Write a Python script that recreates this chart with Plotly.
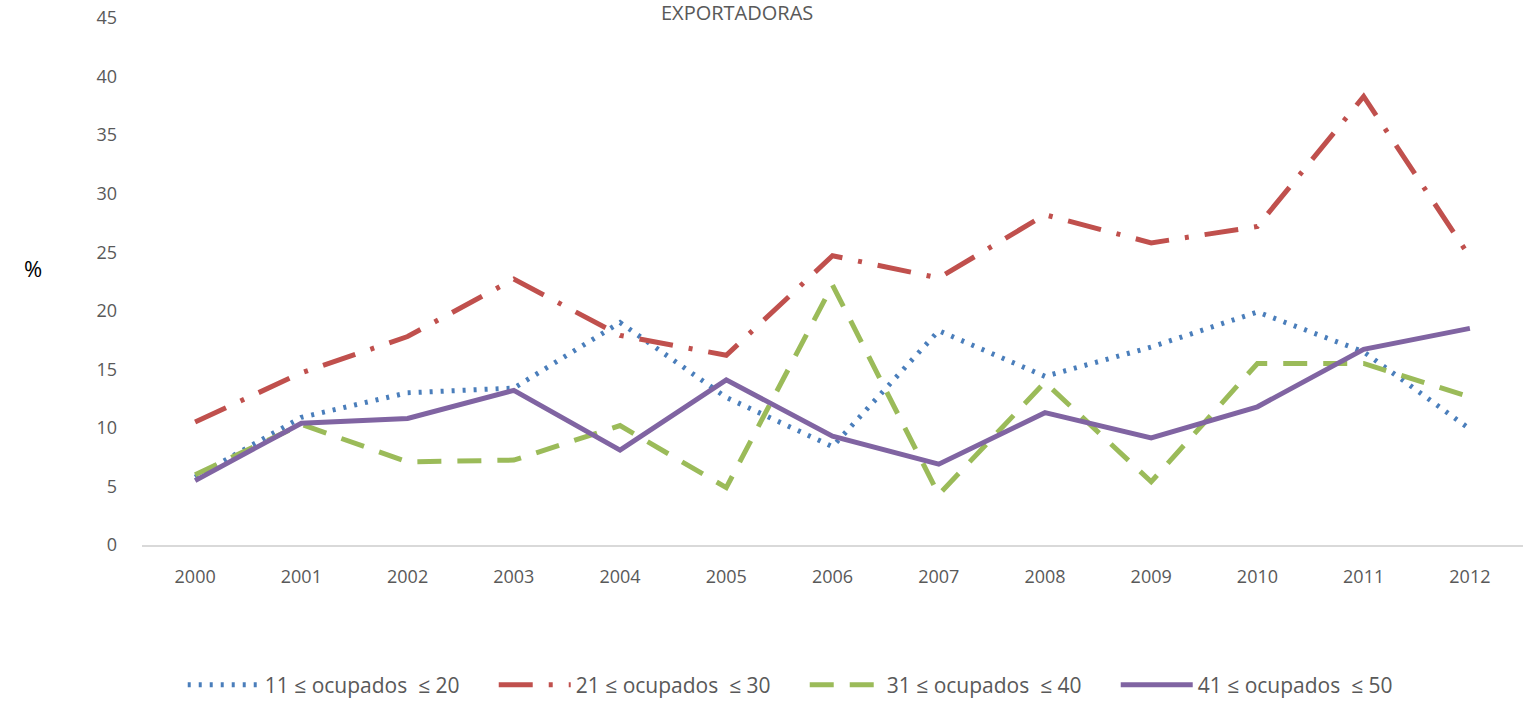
import plotly.graph_objects as go

years = ["2000", "2001", "2002", "2003", "2004", "2005", "2006",
         "2007", "2008", "2009", "2010", "2011", "2012"]
s11_20 = [5.8, 10.9, 13.0, 13.4, 19.0, 12.6, 8.4, 18.3, 14.4, 16.9, 19.9, 16.5, 9.9]
s21_30 = [10.5, 14.7, 17.8, 22.7, 17.9, 16.2, 24.7, 22.8, 28.2, 25.8, 27.2, 38.3, 24.6]
s31_40 = [6.0, 10.3, 7.1, 7.25, 10.2, 4.9, 22.2, 4.3, 13.9, 5.4, 15.5, 15.5, 12.65]
s41_50 = [5.5, 10.4, 10.8, 13.2, 8.1, 14.1, 9.3, 6.9, 11.3, 9.15, 11.8, 16.7, 18.5]

names = ["11 ≤ ocupados  ≤ 20", "21 ≤ ocupados  ≤ 30",
         "31 ≤ ocupados  ≤ 40", "41 ≤ ocupados  ≤ 50"]
colors = ["#4A7EBB", "#C0504D", "#9BBB59", "#8064A2"]
dashes = ["3px,8px", "34px,16px,4px,16px", "24px,16px", "solid"]

FONT = "Open Sans"
GRAY = "#595959"

fig = go.Figure()
for ys, nm, c, d in zip([s11_20, s21_30, s31_40, s41_50], names, colors, dashes):
    fig.add_trace(go.Scatter(
        x=years, y=ys, name=nm, mode="lines",
        line=dict(color=c, width=5, dash=d),
    ))

fig.update_layout(
    width=1527, height=701,
    paper_bgcolor="white", plot_bgcolor="white",
    margin=dict(l=142, r=4, t=18, b=156, autoexpand=False),
    font=dict(family=FONT, color=GRAY, size=18),
    showlegend=True,
    legend=dict(orientation="h", x=0.527, xanchor="center", xref="container",
                y=0.0228, yanchor="middle", yref="container",
                font=dict(size=21, color=GRAY), itemwidth=72,
                entrywidth=224, entrywidthmode="pixels",
                traceorder="normal"),
    xaxis=dict(type="category", showgrid=False, showline=True, linecolor="#D9D9D9",
               linewidth=2, ticks="", tickfont=dict(size=18, color=GRAY),
               range=[-0.5, 12.5], zeroline=False, ticklabelstandoff=14),
    yaxis=dict(range=[0, 45], dtick=5, showgrid=False, showline=False, zeroline=False,
               tickfont=dict(size=18, color=GRAY), ticks="", ticklabelstandoff=24,
               ticklabeloverflow="allow"),
)

fig.add_annotation(text="EXPORTADORAS", xref="paper", yref="paper", x=0.431, y=1,
                   yshift=6, showarrow=False, yanchor="middle",
                   font=dict(size=20, color=GRAY, family=FONT))
fig.add_annotation(text="%", xref="paper", yref="paper", x=-0.079, y=0.526,
                   xanchor="center", yanchor="middle", showarrow=False,
                   font=dict(size=22, color="black", family=FONT))

fig.write_html("out.html", config={"displayModeBar": False},
               post_script="document.body.style.margin='0';document.body.style.overflow='hidden';")
